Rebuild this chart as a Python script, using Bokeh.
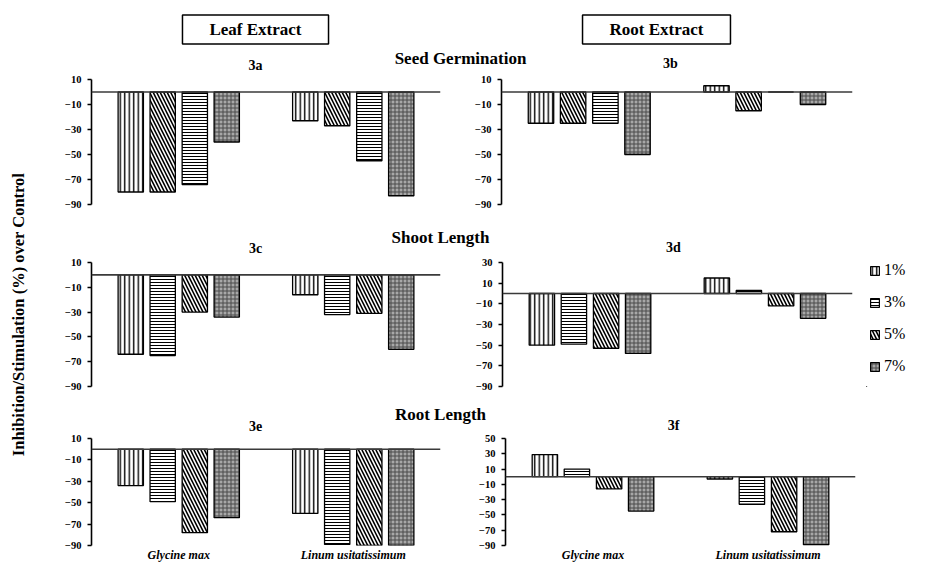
import math
from bokeh.plotting import figure
from bokeh.models import (FactorRange, Range1d, Span, Label, Legend, LegendItem,
                          ColumnDataSource, FixedTicker)
from bokeh.transform import dodge
from bokeh.layouts import row, column
from bokeh.embed import file_html
from bokeh.resources import INLINE

# ---------------- data ----------------
species = ["Glycine max", "Linum usitatissimum"]
concentrations = ["1%", "3%", "5%", "7%"]

# values per bar position (1%, 3%, 5%, 7%) for each species
g3a = [-80, -80, -74, -40]
l3a = [-23, -27, -55, -83]
g3b = [-25, -25, -25, -50]
l3b = [5, -15, 0, -10]
g3c = [-64, -65, -30, -34]
l3c = [-16, -32, -31, -60]
g3d = [-50, -49, -53, -58]
l3d = [15, 3, -12, -24]
g3e = [-34, -49, -78, -64]
l3e = [-60, -89, -90, -90]
g3f = [29, 10, -16, -45]
l3f = [-3, -36, -72, -89]

ticks_10 = [10, -10, -30, -50, -70, -90]
ticks_30 = [30, 10, -10, -30, -50, -70, -90]
ticks_50 = [50, 30, 10, -10, -30, -50, -70, -90]

panel_names = ["3a", "3b", "3c", "3d", "3e", "3f"]
section_titles = ["Seed Germination", "Shoot Length", "Root Length"]
extract_titles = ["Leaf Extract", "Root Extract"]
y_title = "Inhibition/Stimulation (%) over Control"

# ---------------- styles ----------------
SERIF = "Liberation Serif"
STY = {
    "V": dict(fill_color="white", hatch_pattern="vertical_line", hatch_scale=4.5,
              hatch_weight=1.4, hatch_color="black"),
    "H": dict(fill_color="white", hatch_pattern="horizontal_line", hatch_scale=3,
              hatch_weight=1.0, hatch_color="black"),
    "D": dict(fill_color="white", hatch_pattern="left_diagonal_line", hatch_scale=7,
              hatch_weight=1.6, hatch_color="black"),
    "P": dict(fill_color="#a8a8a8", hatch_pattern="cross", hatch_scale=4,
              hatch_weight=1.0, hatch_color="#4a4a4a"),
}
OFFSETS = [-0.275, -0.092, 0.092, 0.275]
BAR_W = 0.145


def panel(g_vals, l_vals, yr, ticks, hatch_order, width, height,
          mb_left, mb_right, mb_top, mb_bottom, show_x=False):
    p = figure(width=width, height=height, x_range=FactorRange(*species),
               y_range=Range1d(yr[0], yr[1]), output_backend="svg", title=None,
               toolbar_location=None, x_axis_location="below" if show_x else None,
               min_border_left=mb_left, min_border_right=mb_right,
               min_border_top=mb_top, min_border_bottom=mb_bottom)
    p.outline_line_color = None
    p.xgrid.grid_line_color = None
    p.ygrid.grid_line_color = None
    p.background_fill_color = "white"
    p.border_fill_color = "white"

    ya = p.yaxis[0]
    ya.ticker = FixedTicker(ticks=ticks)
    ya.axis_line_color = "black"
    ya.axis_line_width = 1.6
    ya.major_tick_line_color = "black"
    ya.major_tick_line_width = 1.3
    ya.major_tick_out = 4
    ya.major_tick_in = 0
    ya.minor_tick_line_color = None
    ya.major_label_text_font = SERIF
    ya.major_label_text_font_style = "bold"
    ya.major_label_text_font_size = "10.5px"
    ya.major_label_text_color = "black"
    ya.major_label_standoff = 6

    if show_x:
        xa = p.xaxis[0]
        xa.axis_line_color = None
        xa.major_tick_line_color = None
        xa.minor_tick_line_color = None
        xa.major_tick_out = 0
        xa.major_tick_in = 0
        xa.major_label_text_font = SERIF
        xa.major_label_text_font_style = "bold italic"
        xa.major_label_text_font_size = "12px"
        xa.major_label_text_color = "black"
        xa.major_label_standoff = 2

    for i, conc in enumerate(concentrations):
        src = ColumnDataSource(dict(species=species, value=[g_vals[i], l_vals[i]]))
        p.vbar(x=dodge("species", OFFSETS[i], range=p.x_range), top="value",
               bottom=0, width=BAR_W, source=src, line_color="black",
               line_width=1.3, **STY[hatch_order[i]])

    p.add_layout(Span(location=0, dimension="width", line_color="#3a3a3a",
                      line_width=1.6))
    return p


ORD1 = ["V", "D", "H", "P"]
ORD2 = ["V", "H", "D", "P"]

YW = 36    # y-title column width
LW = 419   # left panel width
RW = 411   # right panel width
GW = 55    # legend column width
BW = LW + RW + GW

H1, H2, H3 = 149, 149, 131

p3a = panel(g3a, l3a, (-90, 10), ticks_10, ORD1, LW, H1, 55, 15, 6, 18)
p3b = panel(g3b, l3b, (-90, 10), ticks_10, ORD1, RW + GW, H1, 46, 14 + GW, 6, 18)
p3c = panel(g3c, l3c, (-90, 10), ticks_10, ORD2, LW, H2, 55, 15, 6, 19)
p3d = panel(g3d, l3d, (-90, 30), ticks_30, ORD2, RW, H2, 47, 14, 6, 19)
p3e = panel(g3e, l3e, (-90, 10), ticks_10, ORD2, LW, H3, 55, 15, 5, 15, show_x=True)
p3f = panel(g3f, l3f, (-90, 50), ticks_50, ORD2, RW + GW, H3, 50, 66, 5, 15, show_x=True)


def text_band(width, height):
    f = figure(width=width, height=height, x_range=Range1d(0, width),
               y_range=Range1d(0, height), output_backend="svg", title=None,
               toolbar_location=None, x_axis_location=None, y_axis_location=None,
               min_border=0)
    f.outline_line_color = None
    f.xgrid.grid_line_color = None
    f.ygrid.grid_line_color = None
    return f


def txt(f, x, y, s, size, style="bold", angle=0.0, **kw):
    f.add_layout(Label(x=x, y=y, x_units="screen", y_units="screen", text=s,
                       angle=angle, text_font=SERIF, text_font_style=style,
                       text_font_size=size, text_align="center",
                       text_baseline="middle", text_color="black", **kw))


# legend column: proxy renderers (kept far outside the visible range) carry the bar styles
legf = text_band(GW, H2)
leg_rs = []
for k in ORD2:
    proxy = ColumnDataSource(dict(x=[-5000], top=[-5000], bottom=[-5100]))
    leg_rs.append(legf.vbar(x="x", top="top", bottom="bottom", width=1, source=proxy,
                            line_color="black", line_width=1.2, **STY[k]))
legend = Legend(items=[LegendItem(label=c, renderers=[r]) for c, r in zip(concentrations, leg_rs)],
                location=(3, 10), orientation="vertical",
                label_text_font=SERIF, label_text_font_size="16px",
                label_text_color="black", glyph_width=11, glyph_height=11,
                label_standoff=4, spacing=12, padding=0, margin=0,
                label_height=20, border_line_color=None, background_fill_alpha=0)
legf.add_layout(legend)

# header band: extract boxes, first section title, panel names 3a / 3b
header = text_band(BW, 73)
for s, cx in zip(extract_titles, [219, 620]):
    txt(header, cx, 44, s, "17px", border_line_color="black", border_line_width=1.5,
        background_fill_color="white",
        padding=dict(left=27, right=27, top=5, bottom=5))
txt(header, 424, 15, section_titles[0], "17px")
txt(header, 219, 8, panel_names[0], "14px")
txt(header, 634, 10, panel_names[1], "14px")

band2 = text_band(BW, 34)
txt(band2, 404, 19, section_titles[1], "17px")
txt(band2, 219, 8, panel_names[2], "14px")
txt(band2, 637, 9, panel_names[3], "14px")

band3 = text_band(BW, 28)
txt(band3, 404, 19, section_titles[2], "17px")
txt(band3, 219, 8, panel_names[4], "14px")
txt(band3, 637, 8, panel_names[5], "14px")

TOTAL_H = 73 + H1 + 34 + H2 + 28 + H3
ylab = text_band(YW, TOTAL_H)
txt(ylab, 18, TOTAL_H - 314, y_title, "16.5px", angle=math.pi / 2)

body = column(header, row(p3a, p3b, spacing=0), band2, row(p3c, p3d, legf, spacing=0),
              band3, row(p3e, p3f, spacing=0), spacing=0)
layout = row(ylab, body, spacing=0)

open("out.html", "w").write(file_html(layout, INLINE))
